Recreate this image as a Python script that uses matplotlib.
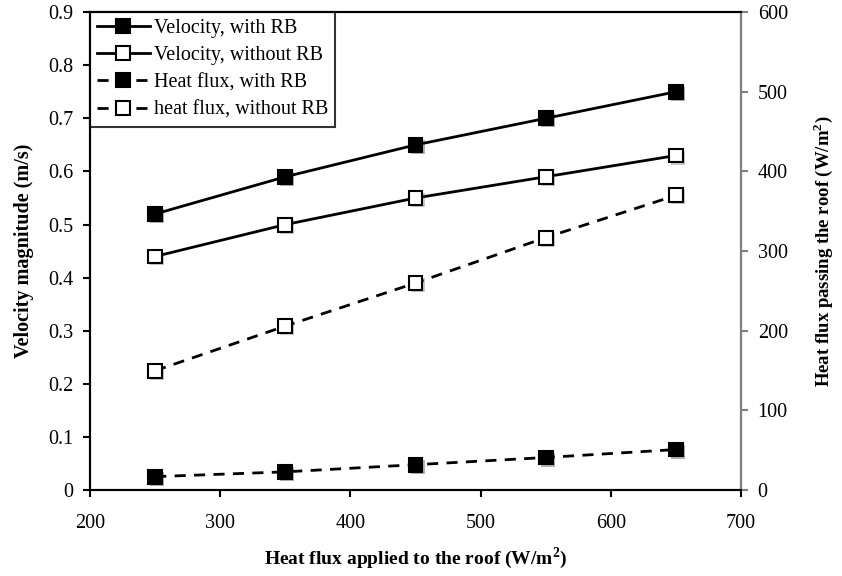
import matplotlib
matplotlib.use("Agg")
import matplotlib.pyplot as plt
import matplotlib.patheffects as pe

plt.rcParams['font.family'] = ['Liberation Serif', 'DejaVu Serif']
plt.rcParams['mathtext.fontset'] = 'custom'
plt.rcParams['mathtext.rm'] = 'Liberation Serif'
plt.rcParams['mathtext.bf'] = 'Liberation Serif:bold'

applied_flux = [250, 350, 450, 550, 650]
vel_with_rb = [0.52, 0.59, 0.65, 0.70, 0.75]
vel_without_rb = [0.44, 0.50, 0.55, 0.59, 0.63]
flux_with_rb = [17, 23, 32, 41, 51]
flux_without_rb = [150, 206, 260, 317, 370]

x_ticks = [200, 300, 400, 500, 600, 700]
vel_ticks = [0, 0.1, 0.2, 0.3, 0.4, 0.5, 0.6, 0.7, 0.8, 0.9]
flux_ticks = [0, 100, 200, 300, 400, 500, 600]

fig = plt.figure(figsize=(8.42, 5.76), dpi=100)
ax = fig.add_axes([0.107, 0.149, 0.773, 0.830])
ax2 = ax.twinx()

shadow = [pe.SimplePatchShadow(offset=(1.5, -1.5), alpha=0.3), pe.Normal()]
dashed = (0, (4, 3))

series = [
    (ax, vel_with_rb, '-', 'black', 'Velocity, with RB'),
    (ax, vel_without_rb, '-', 'white', 'Velocity, without RB'),
    (ax2, flux_with_rb, dashed, 'black', 'Heat flux, with RB'),
    (ax2, flux_without_rb, dashed, 'white', 'heat flux, without RB'),
]

handles = []
for a, vals, ls, face, name in series:
    # line first, then the square markers with a soft drop shadow on top
    a.plot(applied_flux, vals, ls=ls, color='black', lw=2)
    mk, = a.plot(applied_flux, vals, ls='none', marker='s', markersize=10,
                 markerfacecolor=face, markeredgecolor='black', markeredgewidth=1.5)
    mk.set_path_effects(shadow)
    h, = a.plot([], [], ls=ls, color='black', lw=2, marker='s', markersize=10,
                markerfacecolor=face, markeredgecolor='black',
                markeredgewidth=1.5, label=name)
    handles.append(h)

ax.set_xlim(200, 700)
ax.set_ylim(0, 0.9)
ax2.set_ylim(0, 600)
ax.set_xticks(x_ticks)
ax.set_yticks(vel_ticks)
ax.set_yticklabels(['0' if v == 0 else f'{v:.1f}' for v in vel_ticks])
ax2.set_yticks(flux_ticks)

for a in (ax, ax2):
    a.tick_params(labelsize=14.5, length=5, width=1.5, direction='out')
    for s in a.spines.values():
        s.set_linewidth(1.5)
        s.set_color('black')
ax2.spines['right'].set_color('#808080')
ax2.tick_params(axis='y', color='#808080', pad=7)
ax.tick_params(axis='y', pad=7)
ax.tick_params(axis='x', pad=12)

ax.set_xlabel(r'Heat flux applied to the roof (W/m$^{\mathbf{2}}$)', fontsize=14,
              fontweight='bold', labelpad=9)
ax.set_ylabel('Velocity magnitude (m/s)', fontsize=14.5, fontweight='bold', labelpad=10)
ax2.set_ylabel(r'Heat flux passing the roof (W/m$^{\mathbf{2}}$)', fontsize=13.5,
               fontweight='bold', labelpad=17)

leg = ax.legend(handles=handles, loc='upper left', fontsize=14.5,
                frameon=True, fancybox=False, borderaxespad=0,
                handlelength=2.6, handletextpad=0.2, borderpad=0.35, labelspacing=0.4)
leg.get_frame().set_edgecolor('black')
leg.get_frame().set_linewidth(1.5)

fig.savefig('out.png', dpi=100)
